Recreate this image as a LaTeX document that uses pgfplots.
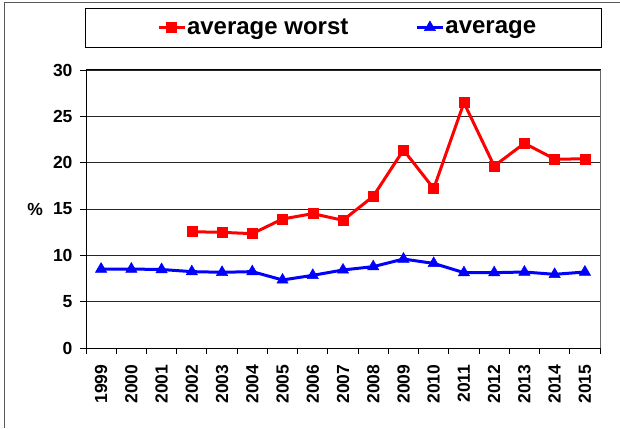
\documentclass[border=0pt]{standalone}
\usepackage{fontspec}
\setmainfont{Liberation Sans}
\usepackage{pgfplots}
\pgfplotsset{compat=1.18}
\begin{document}
\begin{tikzpicture}[x=1pt,y=1pt]
\path[use as bounding box] (0,0) rectangle (620,428);
\draw[black!65, line width=1pt] (4,0) -- (4,425) -- (620,425);
\draw[black, line width=0.9pt] (85,381) rectangle (601,420);
\begin{axis}[
  at={(86pt,80pt)}, anchor=south west,
  scale only axis, width=514pt, height=278pt,
  xmin=-0.5, xmax=16.5, ymin=0, ymax=30,
  ytick={0,5,...,30},
  xtick={0,...,16},
  xticklabels={1999,2000,2001,2002,2003,2004,2005,2006,2007,2008,2009,2010,2011,2012,2013,2014,2015},
  minor xtick={-0.5,0.5,...,16.5},
  major x tick style={draw=none},
  xtick pos=bottom, ytick pos=left,
  tick align=outside,
  major tick length=6pt, minor tick length=6pt,
  tick style={black, line width=0.9pt},
  x tick label style={rotate=90, anchor=east, xshift=-7pt, font=\fontsize{17.5}{17.5}\selectfont\bfseries},
  y tick label style={xshift=-4pt, font=\fontsize{17.5}{17.5}\selectfont\bfseries},
  /pgf/number format/assume math mode=true,
  ymajorgrids,
  grid style={black!85, line width=0.8pt},
  axis line style={black, line width=1pt},
  ylabel={\%},
  ylabel style={rotate=-90, font=\fontsize{17.5}{17.5}\selectfont\bfseries, at={(axis description cs:-0.099,0.5)}, anchor=center},
  clip=false,
  legend columns=2,
  legend style={draw=none, fill=none, at={(axis description cs:0.508,1.153)}, anchor=center,
    /tikz/every even column/.append style={column sep=66pt},
    nodes={inner sep=1pt, font=\fontsize{24}{24}\selectfont\bfseries}},
  legend image code/.code={\draw[mark repeat=2,mark phase=2,#1] plot coordinates {(0pt,0pt)(13pt,0pt)(26pt,0pt)};},
]
\addplot[red, line width=3pt, mark=square*, mark size=5pt, mark options={solid, line width=0.5pt}]
 coordinates {(3,12.55)(4,12.48)(5,12.34)(6,13.92)(7,14.5)(8,13.78)(9,16.37)(10,21.37)(11,17.2)(12,26.47)(13,19.64)(14,22.09)(15,20.39)(16,20.4)};
\addlegendentry{average worst}
\addplot[blue, line width=3pt, mark=triangle*, mark size=6.5pt, mark options={solid, line width=0.5pt}]
 coordinates {(0,8.52)(1,8.52)(2,8.47)(3,8.24)(4,8.17)(5,8.24)(6,7.34)(7,7.84)(8,8.42)(9,8.78)(10,9.6)(11,9.13)(12,8.13)(13,8.13)(14,8.2)(15,7.95)(16,8.2)};
\addlegendentry{average}
\draw[black!60, line width=1pt] (rel axis cs:1,0) -- (rel axis cs:1,1);
\end{axis}
\end{tikzpicture}
\end{document}
